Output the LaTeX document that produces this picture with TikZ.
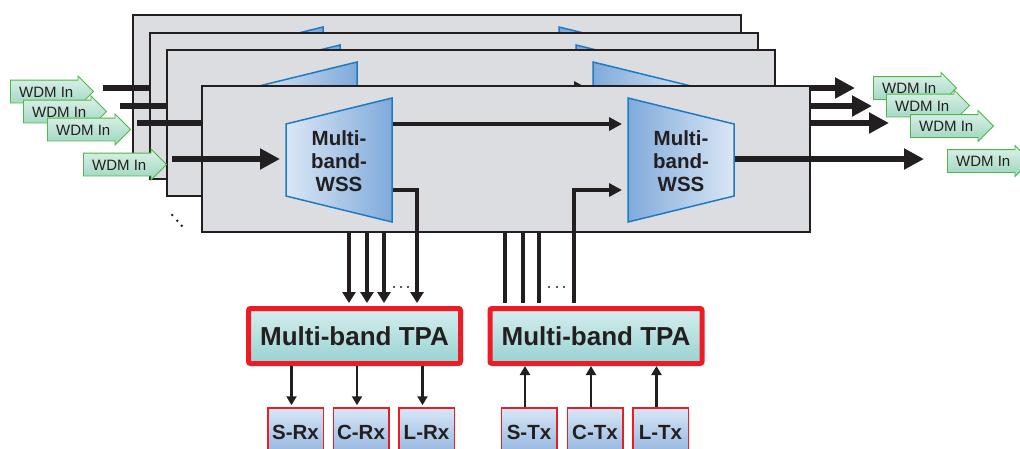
\documentclass[tikz,border=0pt]{standalone}
\usepackage{fontspec}
\newfontfamily\helv{Liberation Sans}
\usetikzlibrary{arrows.meta,shapes.arrows}

\definecolor{ink}{HTML}{231F20}
\definecolor{panelfill}{HTML}{DCDDE0}
\definecolor{wssedge}{HTML}{1F7BC1}
\definecolor{wsslight}{HTML}{DAE7F5}
\definecolor{wssdark}{HTML}{80AADB}
\definecolor{wdmedge}{HTML}{4DB848}
\definecolor{wdmtop}{HTML}{DDF2E9}
\definecolor{wdmbot}{HTML}{9DD5BF}
\definecolor{tpared}{HTML}{ED1C24}
\definecolor{tpatop}{HTML}{D6EEEE}
\definecolor{tpabot}{HTML}{98D2D2}
\definecolor{rxtop}{HTML}{D8E6F5}
\definecolor{rxbot}{HTML}{8EB2DD}

\tikzset{
  panel/.style={draw=ink, line width=1.8pt, fill=panelfill,
    minimum width=608, minimum height=146, inner sep=0pt},
  wssbody/.style={draw=wssedge, line width=1.5pt},
  wsstext/.style={align=center, text=ink, inner sep=0pt,
    font=\helv\bfseries\fontsize{20.5}{23.3}\selectfont},
  thickarrow/.style={draw=ink, line width=5.5pt, -{Triangle[length=20pt,width=20pt]}},
  midarrow/.style={draw=ink, line width=4.5pt, -{Triangle[length=13pt,width=13pt]}},
  midline/.style={draw=ink, line width=4.5pt},
  downarrow/.style={draw=ink, line width=4.5pt, -{Triangle[length=11pt,width=13pt]}},
  rxarrow/.style={draw=ink, line width=2.6pt, -{Triangle[length=9pt,width=10pt]}},
  tpabox/.style={draw=tpared, line width=5pt, rounded corners=2pt,
    top color=tpatop, bottom color=tpabot, text=ink,
    minimum width=212, minimum height=55,
    font=\helv\bfseries\fontsize{26}{26}\selectfont},
  trxbox/.style={draw=tpared, line width=1.5pt,
    top color=rxtop, bottom color=rxbot, text=ink,
    minimum width=55.5, minimum height=49, inner sep=0pt,
    font=\helv\bfseries\fontsize{20.5}{20.5}\selectfont},
  wdm/.style={single arrow, single arrow head extend=4pt, single arrow tip angle=90,
    draw=wdmedge, line width=0.9pt, top color=wdmtop, bottom color=wdmbot,
    text=ink, font=\helv\fontsize{15}{15}\selectfont,
    inner xsep=3pt, inner ysep=5.5pt, text height=11pt, text depth=0pt,
    minimum height=83, anchor=tail},
  dotmark/.style={fill=ink},
  % one switching plane: panel, two multi-band WSS and their links;
  % the argument is the WSS label (left empty on hidden planes)
  pics/wssplane/.style={code={
    \node[panel] (-box) at (304,73) {};
    \coordinate (-in)    at (-30,73);
    \coordinate (-out)   at (722,73);
    \coordinate (-ai)    at (84,73);
    \coordinate (-ao1)   at (190,38);
    \coordinate (-ao2)   at (190,104);
    \coordinate (-aturn) at (215,104);
    \coordinate (-bi1)   at (426,38);
    \coordinate (-bi2)   at (426,104);
    \coordinate (-bturn) at (372,104);
    \coordinate (-bo)    at (532,73);
    \draw[thickarrow, shorten >=6pt] (-in) -- (-ai);
    \draw[midarrow, shorten >=6pt] (-ao1) -- (-bi1);
    \draw[midline] (-ao2) -- (-aturn) -- (-aturn |- -box.south);
    \draw[midarrow, shorten >=6pt] (-bturn |- -box.south) -- (-bturn) -- (-bi2);
    \draw[thickarrow] (-bo) -- (-out);
    \shade[wssbody, left color=wsslight, right color=wssdark]
      (84,38) -- (190,12) -- (190,136) -- (84,110) -- cycle;
    \shade[wssbody, left color=wssdark, right color=wsslight]
      (426,12) -- (532,38) -- (532,110) -- (426,136) -- cycle;
    \node[wsstext] (-a) at (137,75) {#1};
    \node[wsstext] (-b) at (479,75) {#1};
  }}
}

\begin{document}
\begin{tikzpicture}[x=1pt, y=-1pt]
\useasboundingbox (0,0) rectangle (1020,448);
\clip (0,0) rectangle (1020,448);

% stacked planes, back to front
\pic (p1) at (133,15) {wssplane={}};
\pic (p2) at (150,33) {wssplane={}};
\pic (p3) at (167,50) {wssplane={}};
\pic (front) at (202,86) {wssplane={Multi-\\band-\\WSS}};

% further planes
\fill[dotmark] (172.3,215) circle (1.4);
\fill[dotmark] (177.3,220.7) circle (1.4);
\fill[dotmark] (181.7,225.7) circle (1.4);

% transponder aggregators
\node[tpabox] (tpa1) at (354.5,336) {Multi-band TPA};
\node[tpabox] (tpa2) at (596,336) {Multi-band TPA};

% drop side
\coordinate (d1) at (349,232);
\coordinate (d2) at (367,232);
\coordinate (d3) at (384,232);
\draw[downarrow, shorten >=3pt] (d1) -- (d1 |- tpa1.north);
\draw[downarrow, shorten >=3pt] (d2) -- (d2 |- tpa1.north);
\draw[downarrow, shorten >=3pt] (d3) -- (d3 |- tpa1.north);
\draw[downarrow, shorten >=3pt] (front-aturn |- front-box.south) -- (front-aturn |- tpa1.north);
\fill[dotmark] (394,287) circle (1.1);
\fill[dotmark] (401,287) circle (1.1);
\fill[dotmark] (408,287) circle (1.1);

% add side
\coordinate (u1) at (505,232);
\coordinate (u2) at (523,232);
\coordinate (u3) at (539,232);
\draw[midline, shorten <=3pt] (u1 |- tpa2.north) -- (u1);
\draw[midline, shorten <=3pt] (u2 |- tpa2.north) -- (u2);
\draw[midline, shorten <=3pt] (u3 |- tpa2.north) -- (u3);
\draw[midline, shorten <=3pt] (front-bturn |- tpa2.north) -- (front-bturn |- front-box.south);
\fill[dotmark] (549,287) circle (1.1);
\fill[dotmark] (557,287) circle (1.1);
\fill[dotmark] (564,287) circle (1.1);

% receivers and transmitters
\node[trxbox] (srx) at (295.5,432.5) {S-Rx};
\node[trxbox] (crx) at (361,432.5) {C-Rx};
\node[trxbox] (lrx) at (426.5,432.5) {L-Rx};
\node[trxbox] (stx) at (529,432.5) {S-Tx};
\node[trxbox] (ctx) at (595,432.5) {C-Tx};
\node[trxbox] (ltx) at (660.5,432.5) {L-Tx};

\foreach \r in {srx,crx,lrx}
  \draw[rxarrow, shorten >=2pt] ([xshift=-4pt]\r.north |- tpa1.south) -- ([xshift=-4pt]\r.north);
\foreach \t in {stx,ctx,ltx}
  \draw[rxarrow] ([xshift=-4pt]\t.north) -- ([xshift=-4pt]\t.north |- tpa2.south);

% WDM ports
\node[wdm] (wl1) at (10,91.5) {WDM In};
\node[wdm] (wl2) at (23,111.5) {WDM In};
\node[wdm] (wl3) at (47,129.5) {WDM In};
\node[wdm] (wl4) at (83,164.5) {WDM In};
\node[wdm] (wr1) at (873,88) {WDM In};
\node[wdm] (wr2) at (886,105.5) {WDM In};
\node[wdm] (wr3) at (910,126) {WDM In};
\node[wdm] (wr4) at (947,161) {WDM In};
\end{tikzpicture}
\end{document}
